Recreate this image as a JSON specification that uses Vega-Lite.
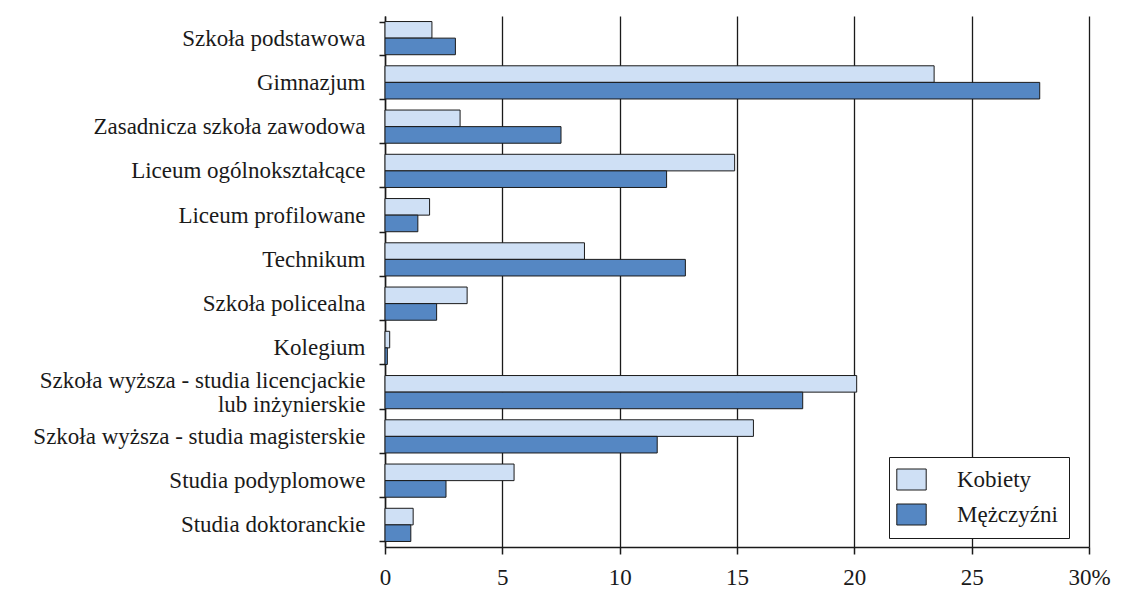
{
  "$schema": "https://vega.github.io/schema/vega-lite/v6.json",
  "autosize": {"type": "none"},
  "width": 704,
  "height": 531,
  "padding": {"left": 385, "top": 16, "right": 32, "bottom": 46},
  "background": "white",
  "data": {
    "values": [
      {"category": "Szkoła podstawowa", "sex": "Kobiety", "value": 2.0},
      {"category": "Szkoła podstawowa", "sex": "Mężczyźni", "value": 3.0},
      {"category": "Gimnazjum", "sex": "Kobiety", "value": 23.4},
      {"category": "Gimnazjum", "sex": "Mężczyźni", "value": 27.9},
      {"category": "Zasadnicza szkoła zawodowa", "sex": "Kobiety", "value": 3.2},
      {"category": "Zasadnicza szkoła zawodowa", "sex": "Mężczyźni", "value": 7.5},
      {"category": "Liceum ogólnokształcące", "sex": "Kobiety", "value": 14.9},
      {"category": "Liceum ogólnokształcące", "sex": "Mężczyźni", "value": 12.0},
      {"category": "Liceum profilowane", "sex": "Kobiety", "value": 1.9},
      {"category": "Liceum profilowane", "sex": "Mężczyźni", "value": 1.4},
      {"category": "Technikum", "sex": "Kobiety", "value": 8.5},
      {"category": "Technikum", "sex": "Mężczyźni", "value": 12.8},
      {"category": "Szkoła policealna", "sex": "Kobiety", "value": 3.5},
      {"category": "Szkoła policealna", "sex": "Mężczyźni", "value": 2.2},
      {"category": "Kolegium", "sex": "Kobiety", "value": 0.2},
      {"category": "Kolegium", "sex": "Mężczyźni", "value": 0.1},
      {"category": "Szkoła wyższa - studia licencjackie|lub inżynierskie", "sex": "Kobiety", "value": 20.1},
      {"category": "Szkoła wyższa - studia licencjackie|lub inżynierskie", "sex": "Mężczyźni", "value": 17.8},
      {"category": "Szkoła wyższa - studia magisterskie", "sex": "Kobiety", "value": 15.7},
      {"category": "Szkoła wyższa - studia magisterskie", "sex": "Mężczyźni", "value": 11.6},
      {"category": "Studia podyplomowe", "sex": "Kobiety", "value": 5.5},
      {"category": "Studia podyplomowe", "sex": "Mężczyźni", "value": 2.6},
      {"category": "Studia doktoranckie", "sex": "Kobiety", "value": 1.2},
      {"category": "Studia doktoranckie", "sex": "Mężczyźni", "value": 1.1}
    ]
  },
  "mark": {"type": "bar", "stroke": "#1a1a1a", "strokeWidth": 1},
  "encoding": {
    "y": {
      "field": "category",
      "type": "nominal",
      "sort": null,
      "title": null,
      "scale": {"paddingInner": 0.25, "paddingOuter": 0.125},
      "axis": {
        "labelExpr": "split(datum.label, '|')",
        "labelFont": "Liberation Serif",
        "labelFontSize": 23,
        "labelColor": "#1a1a1a",
        "labelLimit": 0,
        "labelLineHeight": 24,
        "labelPadding": 14,
        "labelOffset": {"expr": "datum && datum.value && indexof(datum.value, '|') >= 0 ? -12 : 0"},
        "tickBand": "extent",
        "tickSize": 6,
        "tickColor": "#1a1a1a",
        "tickWidth": 1.5,
        "domainColor": "#1a1a1a",
        "domainWidth": 1.5,
        "grid": false
      }
    },
    "yOffset": {
      "field": "sex",
      "type": "nominal",
      "sort": ["Kobiety", "Mężczyźni"],
      "scale": {"paddingInner": 0, "paddingOuter": 0}
    },
    "x": {
      "field": "value",
      "type": "quantitative",
      "title": null,
      "scale": {"domain": [0, 30], "nice": false},
      "axis": {
        "values": [0, 5, 10, 15, 20, 25, 30],
        "labelExpr": "datum.value == 30 ? '30%' : datum.label",
        "labelFont": "Liberation Serif",
        "labelFontSize": 23,
        "labelColor": "#1a1a1a",
        "labelPadding": 12,
        "labelFlush": false,
        "tickSize": 7,
        "tickColor": "#1a1a1a",
        "tickWidth": 1.5,
        "domainColor": "#1a1a1a",
        "domainWidth": 1.5,
        "grid": true,
        "gridColor": "#1a1a1a",
        "gridWidth": 1.3
      }
    },
    "fill": {
      "field": "sex",
      "type": "nominal",
      "sort": ["Kobiety", "Mężczyźni"],
      "scale": {"domain": ["Kobiety", "Mężczyźni"], "range": ["#cfe0f5", "#5587c3"]},
      "legend": {
        "title": null,
        "orient": "none",
        "legendX": 504,
        "legendY": 441,
        "padding": 11,
        "strokeColor": "#1a1a1a",
        "fillColor": "white",
        "symbolType": "M-1.4,-1H1.4V1H-1.4Z",
        "symbolSize": 441,
        "symbolStrokeColor": "#1a1a1a",
        "symbolStrokeWidth": 1,
        "symbolOpacity": 1,
        "labelFont": "Liberation Serif",
        "labelFontSize": 23,
        "labelColor": "#1a1a1a",
        "labelOffset": 34,
        "rowPadding": 10
      }
    }
  },
  "config": {"view": {"stroke": null}}
}
